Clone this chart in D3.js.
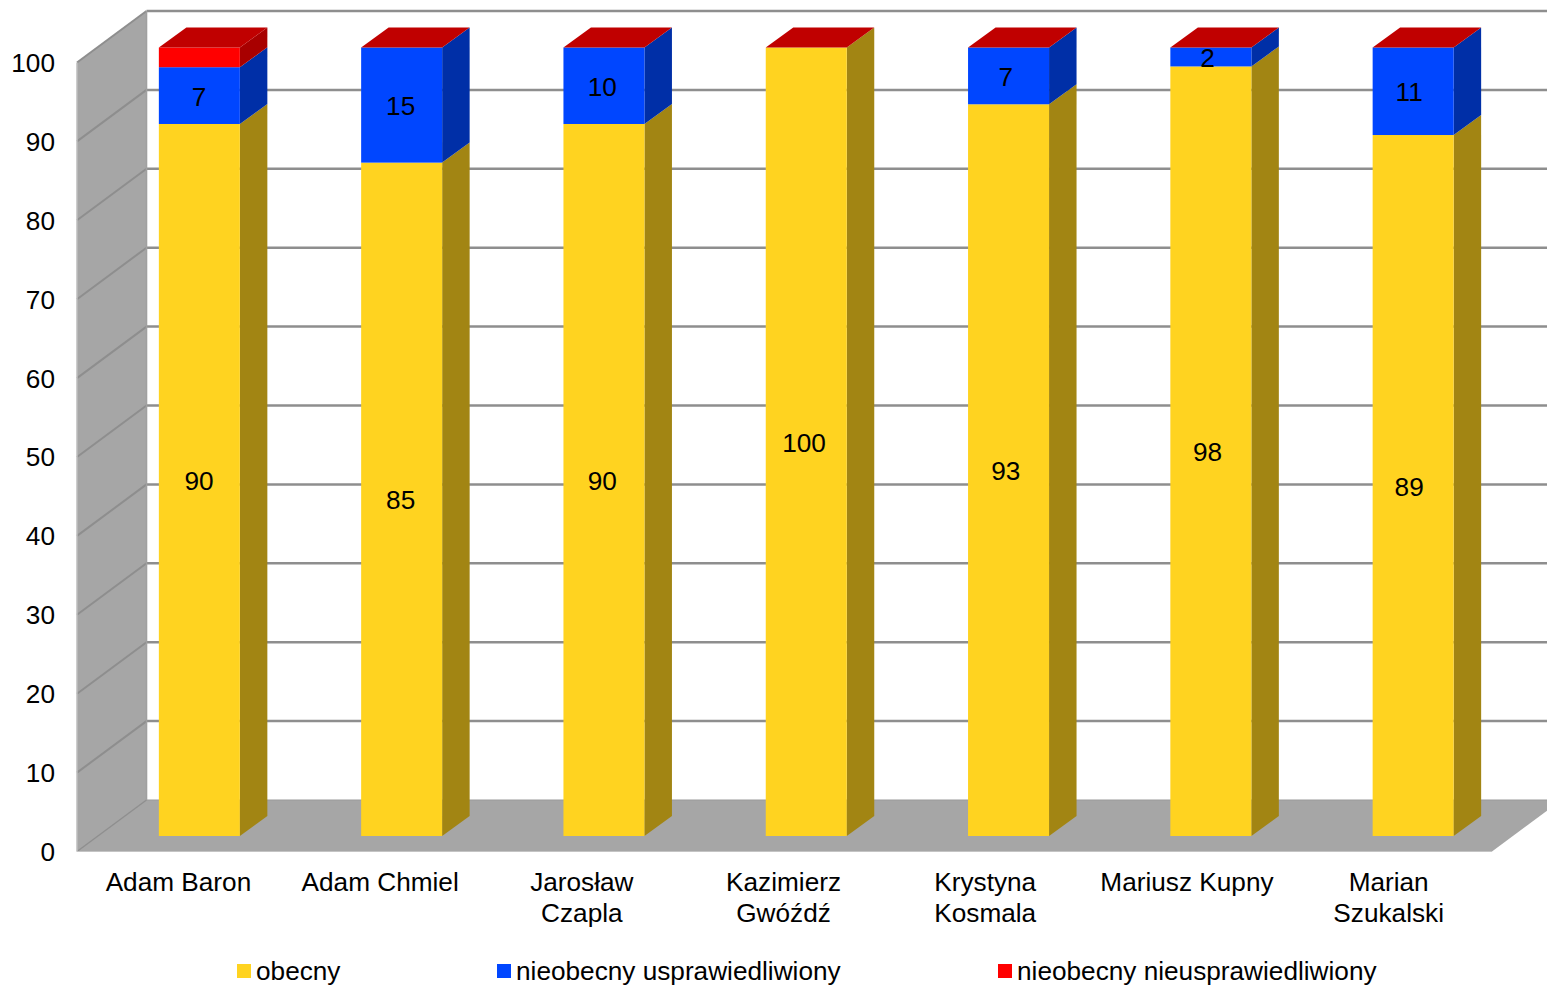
<!DOCTYPE html>
<html><head><meta charset="utf-8">
<script src="https://cdn.jsdelivr.net/npm/d3@7"></script>
<style>html,body{margin:0;padding:0;background:#fff;overflow:hidden}svg{display:block}text{font-family:"Liberation Sans",Arial,sans-serif;fill:#000}</style>
</head><body><svg id="c" width="1547" height="986"></svg>
<script>
const categories = [["Adam Baron"],["Adam Chmiel"],["Jarosław","Czapla"],["Kazimierz","Gwóźdź"],["Krystyna","Kosmala"],["Mariusz Kupny"],["Marian","Szukalski"]];
const obecny = [90.3,85.4,90.3,100,92.8,97.6,88.9];
const usprawiedliwiony = [7.2,14.6,9.7,0,7.2,2.4,11.1];
const nieusprawiedliwiony = [2.5,0,0,0,0,0,0];
const seriesNames = ["obecny","nieobecny usprawiedliwiony","nieobecny nieusprawiedliwiony"];
const frontColors = ["#FFD320","#0046FF","#FF0000"];
const sideColors = ["#A28513","#002FA7","#A80000"];
const topColor = "#C00000";
const labelled = [true,true,false];
const yTicks = [0,10,20,30,40,50,60,70,80,90,100];

const svg = d3.select("#c");
const W = 69.5, H = -51.5;           // chart depth vector
const FONT = 26.2;
const barW = 81, bdx = 27.5, bdy = -20;
const xBar = d3.scaleBand().domain(d3.range(7)).range([98.2,1514.3]);
const xLab = d3.scaleBand().domain(d3.range(7)).range([77.6,1489.5]);
const y = d3.scaleLinear().domain([0,100]).range([851.5,62.5]);
const yBar = d3.scaleLinear().domain([0,100]).range([836,47.5]);
const poly = (p,f)=>svg.append("polygon").attr("points",p.map(q=>q.join(",")).join(" ")).attr("fill",f);

// walls
poly([[77,y(0)],[77+W,y(0)+H],[77+W,y(100)+H],[77,y(100)]],"#A6A6A6");
poly([[77,y(0)],[77+W,y(0)+H],[1492+W,y(0)+H],[1492,y(0)]],"#A6A6A6");
// grid
const grid = svg.append("g").attr("fill","none").attr("stroke","#8E8E8E").attr("stroke-width",2.5);
yTicks.forEach(t=>{
  if(t>0) grid.append("line").attr("x1",77+W).attr("x2",1492+W).attr("y1",y(t)+H).attr("y2",y(t)+H);
  else grid.append("line").attr("x1",77+W).attr("x2",1492+W).attr("y1",y(t)+H).attr("y2",y(t)+H).attr("stroke","#9a9a9a").attr("stroke-width",1.2);
  grid.append("line").attr("x1",77).attr("x2",77+W).attr("y1",y(t)).attr("y2",y(t)+H).attr("stroke-width",t?2:1.4);
});
grid.append("line").attr("x1",77+W).attr("x2",77+W).attr("y1",y(0)+H).attr("y2",y(100)+H).attr("stroke","#A0A0A0").attr("stroke-width",1.6);
grid.append("line").attr("x1",77).attr("x2",77).attr("y1",y(0)).attr("y2",y(100)).attr("stroke","#BDBDBD").attr("stroke-width",1.5);
grid.append("line").attr("x1",77).attr("x2",1492).attr("y1",y(0)).attr("y2",y(0)).attr("stroke","#C4C4C4").attr("stroke-width",1.2);

// y axis labels via d3 axis
const ax = svg.append("g").attr("transform","translate(55,0)").call(d3.axisLeft(y).tickValues(yTicks).tickSize(0).tickPadding(0));
ax.select(".domain").remove();
ax.selectAll("text").attr("font-size",FONT).attr("font-family",'"Liberation Sans",Arial,sans-serif').attr("fill","#000").attr("dy","0.34em");

// bars
const stackData = categories.map((c,i)=>[obecny[i],usprawiedliwiony[i],nieusprawiedliwiony[i]]);
const labels = [];
stackData.forEach((vals,i)=>{
  const left = xBar(i)+xBar.bandwidth()/2-barW/2, right = left+barW;
  let cum = 0;
  const g = svg.append("g");
  vals.forEach((v,s)=>{
    if(v<=0) return;
    const y0 = yBar(cum), y1 = yBar(cum+v);
    g.append("polygon").attr("points",[[right,y0],[right+bdx,y0+bdy],[right+bdx,y1+bdy],[right,y1]].join(" ")).attr("fill",sideColors[s]);
    g.append("rect").attr("x",left).attr("y",y1).attr("width",barW).attr("height",y0-y1).attr("fill",frontColors[s]);
    if(labelled[s]) labels.push({x:xLab(i)+xLab.bandwidth()/2+20.5,y:(y0+y1)/2,v:Math.round(v)});
    cum += v;
  });
  const t = yBar(cum);
  g.append("polygon").attr("points",[[left,t],[left+bdx,t+bdy],[right+bdx,t+bdy],[right,t]].join(" ")).attr("fill",topColor);
});
svg.append("g").selectAll("text").data(labels).join("text")
  .attr("x",d=>d.x).attr("y",d=>d.y+0.7).attr("dy","0.36em").attr("text-anchor","middle").attr("font-size",FONT).text(d=>d.v);

// category labels
const cat = svg.append("g").selectAll("text").data(categories).join("text")
  .attr("text-anchor","middle").attr("font-size",FONT);
cat.each(function(lines,i){
  d3.select(this).selectAll("tspan").data(lines).join("tspan")
    .attr("x",xLab(i)+xLab.bandwidth()/2).attr("y",(d,k)=>891+k*31).text(d=>d);
});

// legend
const legendX = [237,497,998];
const lg = svg.append("g").selectAll("g").data(seriesNames).join("g")
  .attr("transform",(d,i)=>`translate(${legendX[i]},964)`);
lg.append("rect").attr("width",14).attr("height",14).attr("fill",(d,i)=>frontColors[i]);
lg.append("text").attr("x",19).attr("y",16).attr("font-size",FONT).text(d=>d);
</script></body></html>
